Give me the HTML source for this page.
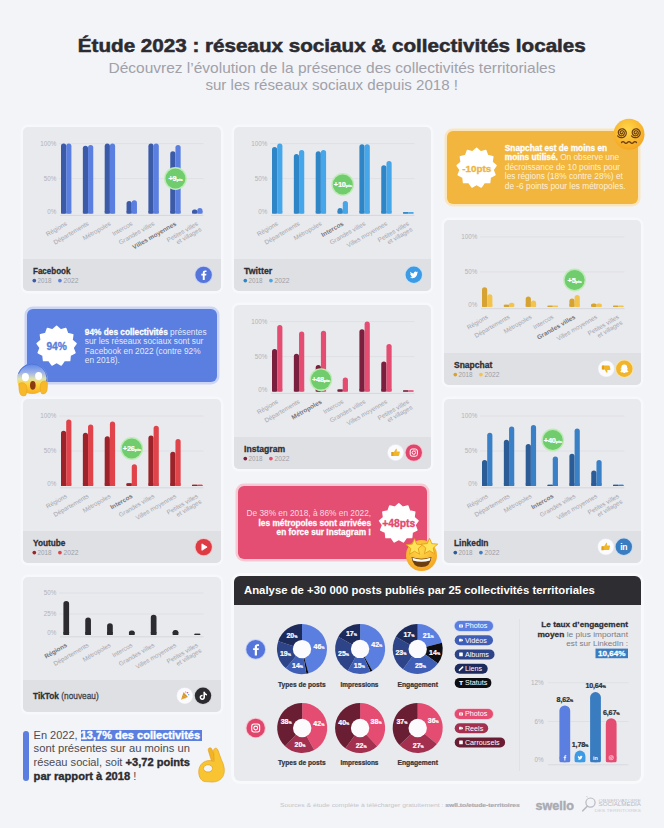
<!DOCTYPE html>
<html lang="fr"><head><meta charset="utf-8"><title>Étude 2023 : réseaux sociaux &amp; collectivités locales</title>
<style>html,body{margin:0;padding:0}
body{width:664px;height:828px;background:#f3f4f8;position:relative;overflow:hidden;font-family:"Liberation Sans", Arial, sans-serif}
.abs{position:absolute}
.card{position:absolute;background:#e9eaee;border-radius:5px;box-shadow:0 0 0 2.5px #f7f8fb;overflow:hidden}
.card .ft{position:absolute;left:0;right:0;bottom:0;background:#dfe0e4}
.call{position:absolute;border-radius:6px}
svg{position:absolute;left:0;top:0}
svg text{font-family:"Liberation Sans", Arial, sans-serif}</style></head>
<body>
<div class="card" style="left:23px;top:127px;width:198px;height:164px"><div class="ft" style="height:32px"></div></div>
<div class="card" style="left:234px;top:127px;width:197px;height:164px"><div class="ft" style="height:32px"></div></div>
<div class="call" style="left:447px;top:131px;width:191px;height:73px;background:#f2b63f;box-shadow:0 0 0 2.5px #fbe5bd"></div>
<div class="card" style="left:444px;top:220px;width:197px;height:165px"><div class="ft" style="height:32px"></div></div>
<div class="call" style="left:27px;top:309px;width:190px;height:73px;background:#5b7fe0;box-shadow:0 0 0 2.5px #cbd5f6"></div>
<div class="card" style="left:234px;top:305px;width:197px;height:164px"><div class="ft" style="height:32px"></div></div>
<div class="card" style="left:23px;top:399px;width:198px;height:164px"><div class="ft" style="height:32px"></div></div>
<div class="card" style="left:444px;top:399px;width:197px;height:164px"><div class="ft" style="height:32px"></div></div>
<div class="call" style="left:238px;top:486px;width:189px;height:73px;background:#e44e72;box-shadow:0 0 0 2.5px #f7c9d5"></div>
<div class="card" style="left:23px;top:577px;width:198px;height:135px"><div class="ft" style="height:32px"></div></div>
<div class="abs" style="left:23px;top:731px;width:5.5px;height:50px;border-radius:3px;background:#5b7fe0"></div>
<div class="abs" style="left:81px;top:730px;width:121px;height:10.5px;background:#5b7fe0"></div>
<div class="abs" style="left:234px;top:576px;width:407px;height:205px;border-radius:6px;background:#e9eaee;overflow:hidden;box-shadow:0 0 0 3px #f8f9fb"><div style="height:29px;background:#2e2e32"></div></div>
<svg width="664" height="828" viewBox="0 0 664 828">
<defs><radialGradient id="fg" cx="45%" cy="35%" r="65%"><stop offset="0" stop-color="#ffd84a"/><stop offset="1" stop-color="#f5a623"/></radialGradient><linearGradient id="sg" x1="0" y1="0" x2="0" y2="1"><stop offset="0" stop-color="#5a85e6"/><stop offset="0.3" stop-color="#9fb3ea"/><stop offset="0.5" stop-color="#dfe2b0"/><stop offset="0.68" stop-color="#ffd43c"/><stop offset="1" stop-color="#f6ae22"/></linearGradient></defs>
<text x="331.80" y="51.70" font-size="17.6" fill="#2b2b30" font-weight="bold" text-anchor="middle"  stroke="#2b2b30" stroke-width="0.5" textLength="508" lengthAdjust="spacingAndGlyphs">Étude 2023 : réseaux sociaux &amp; collectivités locales</text>
<text x="332.00" y="73.10" font-size="14.5" fill="#a0a1a9" font-weight="normal" text-anchor="middle"  textLength="447" lengthAdjust="spacingAndGlyphs">Découvrez l’évolution de la présence des collectivités territoriales</text>
<text x="331.70" y="89.50" font-size="14.5" fill="#a0a1a9" font-weight="normal" text-anchor="middle"  textLength="252.6" lengthAdjust="spacingAndGlyphs">sur les réseaux sociaux depuis 2018 !</text>
<line x1="59" y1="143.60" x2="203.5" y2="143.60" stroke="#dcdde2" stroke-width="0.8"/>
<text x="56.40" y="145.90" font-size="6.3" fill="#b2b3ba" font-weight="normal" text-anchor="end" >100%</text>
<line x1="59" y1="178.60" x2="203.5" y2="178.60" stroke="#dcdde2" stroke-width="0.8"/>
<text x="56.40" y="180.90" font-size="6.3" fill="#b2b3ba" font-weight="normal" text-anchor="end" >50%</text>
<text x="56.40" y="214.00" font-size="6.3" fill="#b2b3ba" font-weight="normal" text-anchor="end" >0%</text>
<line x1="60" y1="215.40" x2="203.5" y2="215.40" stroke="#d6d7dc" stroke-width="1"/>
<rect x="61.00" y="143.60" width="5.2" height="70.00" rx="2.60" fill="#3b5aa8"/>
<rect x="61.00" y="211.00" width="5.2" height="2.60" fill="#3b5aa8"/>
<rect x="66.20" y="143.60" width="5.2" height="70.00" rx="2.60" fill="#5a7fe0"/>
<rect x="66.20" y="211.00" width="5.2" height="2.60" fill="#5a7fe0"/>
<text transform="translate(67.50,224.90) rotate(-30)" font-size="6.3" fill="#a4a5ad" font-weight="normal" stroke="none" text-anchor="end">Régions</text>
<rect x="82.85" y="145.70" width="5.2" height="67.90" rx="2.60" fill="#3b5aa8"/>
<rect x="82.85" y="211.00" width="5.2" height="2.60" fill="#3b5aa8"/>
<rect x="88.05" y="145.00" width="5.2" height="68.60" rx="2.60" fill="#5a7fe0"/>
<rect x="88.05" y="211.00" width="5.2" height="2.60" fill="#5a7fe0"/>
<text transform="translate(89.35,224.90) rotate(-30)" font-size="6.3" fill="#a4a5ad" font-weight="normal" stroke="none" text-anchor="end">Départements</text>
<rect x="104.70" y="143.60" width="5.2" height="70.00" rx="2.60" fill="#3b5aa8"/>
<rect x="104.70" y="211.00" width="5.2" height="2.60" fill="#3b5aa8"/>
<rect x="109.90" y="143.60" width="5.2" height="70.00" rx="2.60" fill="#5a7fe0"/>
<rect x="109.90" y="211.00" width="5.2" height="2.60" fill="#5a7fe0"/>
<text transform="translate(111.20,224.90) rotate(-30)" font-size="6.3" fill="#a4a5ad" font-weight="normal" stroke="none" text-anchor="end">Métropoles</text>
<rect x="126.55" y="201.00" width="5.2" height="12.60" rx="2.60" fill="#3b5aa8"/>
<rect x="126.55" y="211.00" width="5.2" height="2.60" fill="#3b5aa8"/>
<rect x="131.75" y="200.30" width="5.2" height="13.30" rx="2.60" fill="#5a7fe0"/>
<rect x="131.75" y="211.00" width="5.2" height="2.60" fill="#5a7fe0"/>
<text transform="translate(133.05,224.90) rotate(-30)" font-size="6.3" fill="#a4a5ad" font-weight="normal" stroke="none" text-anchor="end">Intercos</text>
<rect x="148.40" y="143.60" width="5.2" height="70.00" rx="2.60" fill="#3b5aa8"/>
<rect x="148.40" y="211.00" width="5.2" height="2.60" fill="#3b5aa8"/>
<rect x="153.60" y="143.60" width="5.2" height="70.00" rx="2.60" fill="#5a7fe0"/>
<rect x="153.60" y="211.00" width="5.2" height="2.60" fill="#5a7fe0"/>
<text transform="translate(154.90,224.90) rotate(-30)" font-size="6.3" fill="#a4a5ad" font-weight="normal" stroke="none" text-anchor="end">Grandes villes</text>
<rect x="170.25" y="151.30" width="5.2" height="62.30" rx="2.60" fill="#3b5aa8"/>
<rect x="170.25" y="211.00" width="5.2" height="2.60" fill="#3b5aa8"/>
<rect x="175.45" y="145.00" width="5.2" height="68.60" rx="2.60" fill="#5a7fe0"/>
<rect x="175.45" y="211.00" width="5.2" height="2.60" fill="#5a7fe0"/>
<text transform="translate(176.75,224.90) rotate(-30)" font-size="6.3" fill="#74757d" font-weight="bold" stroke="none" text-anchor="end">Villes moyennes</text>
<rect x="192.10" y="209.40" width="5.2" height="4.20" rx="2.10" fill="#3b5aa8"/>
<rect x="192.10" y="211.00" width="5.2" height="2.60" fill="#3b5aa8"/>
<rect x="197.30" y="208.00" width="5.2" height="5.60" rx="2.60" fill="#5a7fe0"/>
<rect x="197.30" y="211.00" width="5.2" height="2.60" fill="#5a7fe0"/>
<text transform="translate(198.60,224.90) rotate(-30)" font-size="6.3" fill="#a4a5ad" font-weight="normal" stroke="none" text-anchor="end"><tspan x="0" y="0">Petites villes</tspan><tspan x="0" y="6.6">et villages</tspan></text>
<circle cx="175.45" cy="178.50" r="11.4" fill="#bdebb6"/>
<circle cx="175.45" cy="178.50" r="10" fill="#70cc6c"/>
<text x="175.45" y="181.10" font-size="7.4" fill="#ffffff" font-weight="bold" text-anchor="middle" letter-spacing="-0.2" stroke="#ffffff" stroke-width="0.24">+9<tspan font-size="4.4">pts</tspan></text>
<text x="33.00" y="273.70" font-size="8.6" fill="#2e2f35" font-weight="bold" text-anchor="start"  textLength="37.5" lengthAdjust="spacingAndGlyphs" stroke="#2e2f35" stroke-width="0.28">Facebook</text>
<circle cx="34.3" cy="280.60" r="1.85" fill="#3b5aa8"/>
<text x="37.60" y="283.10" font-size="7" fill="#9d9ea6" font-weight="normal" text-anchor="start"  textLength="14" lengthAdjust="spacingAndGlyphs">2018</text>
<circle cx="59.9" cy="280.60" r="1.85" fill="#5a7fe0"/>
<text x="63.50" y="283.10" font-size="7" fill="#9d9ea6" font-weight="normal" text-anchor="start"  textLength="15" lengthAdjust="spacingAndGlyphs">2022</text>
<circle cx="203.6" cy="274.9" r="9.2" fill="#c9d3f6"/>
<circle cx="203.6" cy="274.9" r="8.2" fill="#5575da"/>
<g transform="translate(203.6,274.9)"><path d="M1.1,5.2 V0.6 H2.6 L2.8,-1.1 H1.1 V-2.1 C1.1,-2.6 1.3,-2.9 1.9,-2.9 H2.9 V-4.4 C2.6,-4.45 2.1,-4.5 1.5,-4.5 C0.1,-4.5 -0.8,-3.7 -0.8,-2.2 V-1.1 H-2.3 V0.6 H-0.8 V5.2 Z" fill="#fff"/></g>
<line x1="270" y1="143.60" x2="414.5" y2="143.60" stroke="#dcdde2" stroke-width="0.8"/>
<text x="267.40" y="145.90" font-size="6.3" fill="#b2b3ba" font-weight="normal" text-anchor="end" >100%</text>
<line x1="270" y1="178.60" x2="414.5" y2="178.60" stroke="#dcdde2" stroke-width="0.8"/>
<text x="267.40" y="180.90" font-size="6.3" fill="#b2b3ba" font-weight="normal" text-anchor="end" >50%</text>
<text x="267.40" y="214.00" font-size="6.3" fill="#b2b3ba" font-weight="normal" text-anchor="end" >0%</text>
<line x1="271" y1="215.40" x2="414.5" y2="215.40" stroke="#d6d7dc" stroke-width="1"/>
<rect x="272.00" y="147.10" width="5.2" height="66.50" rx="2.60" fill="#2e86c7"/>
<rect x="272.00" y="211.00" width="5.2" height="2.60" fill="#2e86c7"/>
<rect x="277.20" y="143.60" width="5.2" height="70.00" rx="2.60" fill="#45a6ea"/>
<rect x="277.20" y="211.00" width="5.2" height="2.60" fill="#45a6ea"/>
<text transform="translate(278.50,224.90) rotate(-30)" font-size="6.3" fill="#a4a5ad" font-weight="normal" stroke="none" text-anchor="end">Régions</text>
<rect x="293.85" y="154.10" width="5.2" height="59.50" rx="2.60" fill="#2e86c7"/>
<rect x="293.85" y="211.00" width="5.2" height="2.60" fill="#2e86c7"/>
<rect x="299.05" y="149.90" width="5.2" height="63.70" rx="2.60" fill="#45a6ea"/>
<rect x="299.05" y="211.00" width="5.2" height="2.60" fill="#45a6ea"/>
<text transform="translate(300.35,224.90) rotate(-30)" font-size="6.3" fill="#a4a5ad" font-weight="normal" stroke="none" text-anchor="end">Départements</text>
<rect x="315.70" y="151.30" width="5.2" height="62.30" rx="2.60" fill="#2e86c7"/>
<rect x="315.70" y="211.00" width="5.2" height="2.60" fill="#2e86c7"/>
<rect x="320.90" y="149.90" width="5.2" height="63.70" rx="2.60" fill="#45a6ea"/>
<rect x="320.90" y="211.00" width="5.2" height="2.60" fill="#45a6ea"/>
<text transform="translate(322.20,224.90) rotate(-30)" font-size="6.3" fill="#a4a5ad" font-weight="normal" stroke="none" text-anchor="end">Métropoles</text>
<rect x="337.55" y="208.00" width="5.2" height="5.60" rx="2.60" fill="#2e86c7"/>
<rect x="337.55" y="211.00" width="5.2" height="2.60" fill="#2e86c7"/>
<rect x="342.75" y="201.00" width="5.2" height="12.60" rx="2.60" fill="#45a6ea"/>
<rect x="342.75" y="211.00" width="5.2" height="2.60" fill="#45a6ea"/>
<text transform="translate(344.05,224.90) rotate(-30)" font-size="6.3" fill="#74757d" font-weight="bold" stroke="none" text-anchor="end">Intercos</text>
<rect x="359.40" y="144.30" width="5.2" height="69.30" rx="2.60" fill="#2e86c7"/>
<rect x="359.40" y="211.00" width="5.2" height="2.60" fill="#2e86c7"/>
<rect x="364.60" y="144.30" width="5.2" height="69.30" rx="2.60" fill="#45a6ea"/>
<rect x="364.60" y="211.00" width="5.2" height="2.60" fill="#45a6ea"/>
<text transform="translate(365.90,224.90) rotate(-30)" font-size="6.3" fill="#a4a5ad" font-weight="normal" stroke="none" text-anchor="end">Grandes villes</text>
<rect x="381.25" y="165.30" width="5.2" height="48.30" rx="2.60" fill="#2e86c7"/>
<rect x="381.25" y="211.00" width="5.2" height="2.60" fill="#2e86c7"/>
<rect x="386.45" y="161.10" width="5.2" height="52.50" rx="2.60" fill="#45a6ea"/>
<rect x="386.45" y="211.00" width="5.2" height="2.60" fill="#45a6ea"/>
<text transform="translate(387.75,224.90) rotate(-30)" font-size="6.3" fill="#a4a5ad" font-weight="normal" stroke="none" text-anchor="end">Villes moyennes</text>
<rect x="403.10" y="212.20" width="5.2" height="1.40" rx="0.70" fill="#2e86c7"/>
<rect x="403.10" y="212.20" width="5.2" height="1.40" fill="#2e86c7"/>
<rect x="408.30" y="212.20" width="5.2" height="1.40" rx="0.70" fill="#45a6ea"/>
<rect x="408.30" y="212.20" width="5.2" height="1.40" fill="#45a6ea"/>
<text transform="translate(409.60,224.90) rotate(-30)" font-size="6.3" fill="#a4a5ad" font-weight="normal" stroke="none" text-anchor="end"><tspan x="0" y="0">Petites villes</tspan><tspan x="0" y="6.6">et villages</tspan></text>
<circle cx="342.75" cy="184.50" r="11.4" fill="#bdebb6"/>
<circle cx="342.75" cy="184.50" r="10" fill="#70cc6c"/>
<text x="342.75" y="187.10" font-size="7.4" fill="#ffffff" font-weight="bold" text-anchor="middle" letter-spacing="-0.2" stroke="#ffffff" stroke-width="0.24">+10<tspan font-size="4.4">pts</tspan></text>
<text x="244.00" y="273.70" font-size="8.6" fill="#2e2f35" font-weight="bold" text-anchor="start"  textLength="28.2" lengthAdjust="spacingAndGlyphs" stroke="#2e2f35" stroke-width="0.28">Twitter</text>
<circle cx="245.3" cy="280.60" r="1.85" fill="#2e86c7"/>
<text x="248.60" y="283.10" font-size="7" fill="#9d9ea6" font-weight="normal" text-anchor="start"  textLength="14" lengthAdjust="spacingAndGlyphs">2018</text>
<circle cx="270.9" cy="280.60" r="1.85" fill="#45a6ea"/>
<text x="274.50" y="283.10" font-size="7" fill="#9d9ea6" font-weight="normal" text-anchor="start"  textLength="15" lengthAdjust="spacingAndGlyphs">2022</text>
<circle cx="413.8" cy="274.8" r="9.2" fill="#c6e1f7"/>
<circle cx="413.8" cy="274.8" r="8.2" fill="#3d9be6"/>
<g transform="translate(413.8,274.8)"><path d="M4.3,-2.6 C4,-2.45 3.7,-2.38 3.35,-2.33 C3.7,-2.55 3.95,-2.87 4.08,-3.27 C3.75,-3.07 3.4,-2.93 3.02,-2.86 C2.7,-3.2 2.26,-3.4 1.77,-3.4 C0.83,-3.4 0.07,-2.64 0.07,-1.7 C0.07,-1.57 0.08,-1.43 0.11,-1.31 C-1.3,-1.38 -2.55,-2.06 -3.39,-3.08 C-3.53,-2.83 -3.62,-2.54 -3.62,-2.23 C-3.62,-1.64 -3.32,-1.12 -2.86,-0.81 C-3.14,-0.82 -3.4,-0.9 -3.63,-1.02 V-1 C-3.63,-0.18 -3.05,0.51 -2.27,0.67 C-2.42,0.71 -2.57,0.73 -2.72,0.73 C-2.83,0.73 -2.94,0.72 -3.04,0.7 C-2.82,1.37 -2.2,1.86 -1.46,1.88 C-2.04,2.34 -2.78,2.61 -3.57,2.61 C-3.71,2.61 -3.84,2.6 -3.97,2.58 C-3.22,3.07 -2.32,3.35 -1.36,3.35 C1.77,3.35 3.49,0.75 3.49,-1.5 L3.48,-1.72 C3.82,-1.96 4.1,-2.26 4.33,-2.6 Z" fill="#fff"/></g>
<line x1="480" y1="236.90" x2="624.5" y2="236.90" stroke="#dcdde2" stroke-width="0.8"/>
<text x="477.40" y="239.20" font-size="6.3" fill="#b2b3ba" font-weight="normal" text-anchor="end" >100%</text>
<line x1="480" y1="271.90" x2="624.5" y2="271.90" stroke="#dcdde2" stroke-width="0.8"/>
<text x="477.40" y="274.20" font-size="6.3" fill="#b2b3ba" font-weight="normal" text-anchor="end" >50%</text>
<text x="477.40" y="307.30" font-size="6.3" fill="#b2b3ba" font-weight="normal" text-anchor="end" >0%</text>
<line x1="481" y1="308.70" x2="624.5" y2="308.70" stroke="#d6d7dc" stroke-width="1"/>
<rect x="482.00" y="287.30" width="5.2" height="19.60" rx="2.60" fill="#d6a333"/>
<rect x="482.00" y="304.30" width="5.2" height="2.60" fill="#d6a333"/>
<rect x="487.20" y="294.30" width="5.2" height="12.60" rx="2.60" fill="#f3c44d"/>
<rect x="487.20" y="304.30" width="5.2" height="2.60" fill="#f3c44d"/>
<text transform="translate(488.50,318.20) rotate(-30)" font-size="6.3" fill="#a4a5ad" font-weight="normal" stroke="none" text-anchor="end">Régions</text>
<rect x="503.85" y="304.80" width="5.2" height="2.10" rx="1.05" fill="#d6a333"/>
<rect x="503.85" y="304.80" width="5.2" height="2.10" fill="#d6a333"/>
<rect x="509.05" y="302.70" width="5.2" height="4.20" rx="2.10" fill="#f3c44d"/>
<rect x="509.05" y="304.30" width="5.2" height="2.60" fill="#f3c44d"/>
<text transform="translate(510.35,318.20) rotate(-30)" font-size="6.3" fill="#a4a5ad" font-weight="normal" stroke="none" text-anchor="end">Départements</text>
<rect x="525.70" y="296.40" width="5.2" height="10.50" rx="2.60" fill="#d6a333"/>
<rect x="525.70" y="304.30" width="5.2" height="2.60" fill="#d6a333"/>
<rect x="530.90" y="300.60" width="5.2" height="6.30" rx="2.60" fill="#f3c44d"/>
<rect x="530.90" y="304.30" width="5.2" height="2.60" fill="#f3c44d"/>
<text transform="translate(532.20,318.20) rotate(-30)" font-size="6.3" fill="#a4a5ad" font-weight="normal" stroke="none" text-anchor="end">Métropoles</text>
<rect x="547.55" y="305.70" width="5.2" height="1.20" rx="0.60" fill="#d6a333"/>
<rect x="547.55" y="305.70" width="5.2" height="1.20" fill="#d6a333"/>
<rect x="552.75" y="305.70" width="5.2" height="1.20" rx="0.60" fill="#f3c44d"/>
<rect x="552.75" y="305.70" width="5.2" height="1.20" fill="#f3c44d"/>
<text transform="translate(554.05,318.20) rotate(-30)" font-size="6.3" fill="#a4a5ad" font-weight="normal" stroke="none" text-anchor="end">Intercos</text>
<rect x="569.40" y="298.50" width="5.2" height="8.40" rx="2.60" fill="#d6a333"/>
<rect x="569.40" y="304.30" width="5.2" height="2.60" fill="#d6a333"/>
<rect x="574.60" y="295.00" width="5.2" height="11.90" rx="2.60" fill="#f3c44d"/>
<rect x="574.60" y="304.30" width="5.2" height="2.60" fill="#f3c44d"/>
<text transform="translate(575.90,318.20) rotate(-30)" font-size="6.3" fill="#74757d" font-weight="bold" stroke="none" text-anchor="end">Grandes villes</text>
<rect x="591.25" y="303.40" width="5.2" height="3.50" rx="1.75" fill="#d6a333"/>
<rect x="591.25" y="304.30" width="5.2" height="2.60" fill="#d6a333"/>
<rect x="596.45" y="303.40" width="5.2" height="3.50" rx="1.75" fill="#f3c44d"/>
<rect x="596.45" y="304.30" width="5.2" height="2.60" fill="#f3c44d"/>
<text transform="translate(597.75,318.20) rotate(-30)" font-size="6.3" fill="#a4a5ad" font-weight="normal" stroke="none" text-anchor="end">Villes moyennes</text>
<rect x="613.10" y="305.70" width="5.2" height="1.20" rx="0.60" fill="#d6a333"/>
<rect x="613.10" y="305.70" width="5.2" height="1.20" fill="#d6a333"/>
<rect x="618.30" y="305.70" width="5.2" height="1.20" rx="0.60" fill="#f3c44d"/>
<rect x="618.30" y="305.70" width="5.2" height="1.20" fill="#f3c44d"/>
<text transform="translate(619.60,318.20) rotate(-30)" font-size="6.3" fill="#a4a5ad" font-weight="normal" stroke="none" text-anchor="end"><tspan x="0" y="0">Petites villes</tspan><tspan x="0" y="6.6">et villages</tspan></text>
<circle cx="574.60" cy="280.00" r="11.4" fill="#bdebb6"/>
<circle cx="574.60" cy="280.00" r="10" fill="#70cc6c"/>
<text x="574.60" y="282.60" font-size="7.4" fill="#ffffff" font-weight="bold" text-anchor="middle" letter-spacing="-0.2" stroke="#ffffff" stroke-width="0.24">+5<tspan font-size="4.4">pts</tspan></text>
<text x="454.00" y="367.70" font-size="8.6" fill="#2e2f35" font-weight="bold" text-anchor="start"  textLength="38.3" lengthAdjust="spacingAndGlyphs" stroke="#2e2f35" stroke-width="0.28">Snapchat</text>
<circle cx="455.3" cy="374.60" r="1.85" fill="#d6a333"/>
<text x="458.60" y="377.10" font-size="7" fill="#9d9ea6" font-weight="normal" text-anchor="start"  textLength="14" lengthAdjust="spacingAndGlyphs">2018</text>
<circle cx="480.9" cy="374.60" r="1.85" fill="#f3c44d"/>
<text x="484.50" y="377.10" font-size="7" fill="#9d9ea6" font-weight="normal" text-anchor="start"  textLength="15" lengthAdjust="spacingAndGlyphs">2022</text>
<circle cx="606.2" cy="368.8" r="8.3" fill="#eceef6"/>
<circle cx="606.2" cy="368.8" r="7.7" fill="#fbfbfd"/>
<g transform="translate(606.2,368.8) scale(1,-1)"><path d="M-3.6,-0.6 H-1.6 L0.2,-3.6 C0.5,-4.2 1.4,-4 1.3,-3.2 L1,-1.2 H3.4 C4,-1.2 4.3,-0.7 4.2,-0.2 L3.5,2.7 C3.4,3.1 3.1,3.3 2.7,3.3 H-3.6 Z" fill="#f1b52a"/><rect x="-4.4" y="-0.6" width="2.2" height="4" rx="0.5" fill="#e0a01e"/></g>
<circle cx="624.3" cy="368.8" r="9.2" fill="#fbe3a8"/>
<circle cx="624.3" cy="368.8" r="8.2" fill="#f0b52c"/>
<g transform="translate(624.3,368.8)"><path d="M0,-4.2 C1.9,-4.2 2.9,-2.9 2.9,-1.3 V-0.3 C3.3,-0.5 3.8,-0.4 3.8,-0.1 C3.8,0.3 3.1,0.5 2.8,0.6 C3,1.5 3.7,2.3 4.4,2.5 C4.3,2.9 3.6,3 3.1,3.1 C2.9,3.6 2.8,3.7 2.3,3.6 C1.7,3.5 1.3,3.7 0.9,4 C0.5,4.3 -0.5,4.3 -0.9,4 C-1.3,3.7 -1.7,3.5 -2.3,3.6 C-2.8,3.7 -2.9,3.6 -3.1,3.1 C-3.6,3 -4.3,2.9 -4.4,2.5 C-3.7,2.3 -3,1.5 -2.8,0.6 C-3.1,0.5 -3.8,0.3 -3.8,-0.1 C-3.8,-0.4 -3.3,-0.5 -2.9,-0.3 V-1.3 C-2.9,-2.9 -1.9,-4.2 0,-4.2 Z" fill="#fff"/></g>
<line x1="270" y1="321.60" x2="414.5" y2="321.60" stroke="#dcdde2" stroke-width="0.8"/>
<text x="267.40" y="323.90" font-size="6.3" fill="#b2b3ba" font-weight="normal" text-anchor="end" >100%</text>
<line x1="270" y1="356.60" x2="414.5" y2="356.60" stroke="#dcdde2" stroke-width="0.8"/>
<text x="267.40" y="358.90" font-size="6.3" fill="#b2b3ba" font-weight="normal" text-anchor="end" >50%</text>
<text x="267.40" y="392.00" font-size="6.3" fill="#b2b3ba" font-weight="normal" text-anchor="end" >0%</text>
<line x1="271" y1="393.40" x2="414.5" y2="393.40" stroke="#d6d7dc" stroke-width="1"/>
<rect x="272.00" y="348.90" width="5.2" height="42.70" rx="2.60" fill="#7a1f3e"/>
<rect x="272.00" y="389.00" width="5.2" height="2.60" fill="#7a1f3e"/>
<rect x="277.20" y="325.10" width="5.2" height="66.50" rx="2.60" fill="#e44c71"/>
<rect x="277.20" y="389.00" width="5.2" height="2.60" fill="#e44c71"/>
<text transform="translate(278.50,402.90) rotate(-30)" font-size="6.3" fill="#a4a5ad" font-weight="normal" stroke="none" text-anchor="end">Régions</text>
<rect x="293.85" y="353.80" width="5.2" height="37.80" rx="2.60" fill="#7a1f3e"/>
<rect x="293.85" y="389.00" width="5.2" height="2.60" fill="#7a1f3e"/>
<rect x="299.05" y="331.40" width="5.2" height="60.20" rx="2.60" fill="#e44c71"/>
<rect x="299.05" y="389.00" width="5.2" height="2.60" fill="#e44c71"/>
<text transform="translate(300.35,402.90) rotate(-30)" font-size="6.3" fill="#a4a5ad" font-weight="normal" stroke="none" text-anchor="end">Départements</text>
<rect x="315.70" y="365.00" width="5.2" height="26.60" rx="2.60" fill="#7a1f3e"/>
<rect x="315.70" y="389.00" width="5.2" height="2.60" fill="#7a1f3e"/>
<rect x="320.90" y="330.70" width="5.2" height="60.90" rx="2.60" fill="#e44c71"/>
<rect x="320.90" y="389.00" width="5.2" height="2.60" fill="#e44c71"/>
<text transform="translate(322.20,402.90) rotate(-30)" font-size="6.3" fill="#74757d" font-weight="bold" stroke="none" text-anchor="end">Métropoles</text>
<rect x="337.55" y="389.50" width="5.2" height="2.10" rx="1.05" fill="#7a1f3e"/>
<rect x="337.55" y="389.50" width="5.2" height="2.10" fill="#7a1f3e"/>
<rect x="342.75" y="377.60" width="5.2" height="14.00" rx="2.60" fill="#e44c71"/>
<rect x="342.75" y="389.00" width="5.2" height="2.60" fill="#e44c71"/>
<text transform="translate(344.05,402.90) rotate(-30)" font-size="6.3" fill="#a4a5ad" font-weight="normal" stroke="none" text-anchor="end">Intercos</text>
<rect x="359.40" y="329.30" width="5.2" height="62.30" rx="2.60" fill="#7a1f3e"/>
<rect x="359.40" y="389.00" width="5.2" height="2.60" fill="#7a1f3e"/>
<rect x="364.60" y="321.60" width="5.2" height="70.00" rx="2.60" fill="#e44c71"/>
<rect x="364.60" y="389.00" width="5.2" height="2.60" fill="#e44c71"/>
<text transform="translate(365.90,402.90) rotate(-30)" font-size="6.3" fill="#a4a5ad" font-weight="normal" stroke="none" text-anchor="end">Grandes villes</text>
<rect x="381.25" y="361.50" width="5.2" height="30.10" rx="2.60" fill="#7a1f3e"/>
<rect x="381.25" y="389.00" width="5.2" height="2.60" fill="#7a1f3e"/>
<rect x="386.45" y="344.00" width="5.2" height="47.60" rx="2.60" fill="#e44c71"/>
<rect x="386.45" y="389.00" width="5.2" height="2.60" fill="#e44c71"/>
<text transform="translate(387.75,402.90) rotate(-30)" font-size="6.3" fill="#a4a5ad" font-weight="normal" stroke="none" text-anchor="end">Villes moyennes</text>
<rect x="403.10" y="390.40" width="5.2" height="1.20" rx="0.60" fill="#7a1f3e"/>
<rect x="403.10" y="390.40" width="5.2" height="1.20" fill="#7a1f3e"/>
<rect x="408.30" y="390.40" width="5.2" height="1.20" rx="0.60" fill="#e44c71"/>
<rect x="408.30" y="390.40" width="5.2" height="1.20" fill="#e44c71"/>
<text transform="translate(409.60,402.90) rotate(-30)" font-size="6.3" fill="#a4a5ad" font-weight="normal" stroke="none" text-anchor="end"><tspan x="0" y="0">Petites villes</tspan><tspan x="0" y="6.6">et villages</tspan></text>
<circle cx="320.90" cy="379.60" r="11.4" fill="#bdebb6"/>
<circle cx="320.90" cy="379.60" r="10" fill="#70cc6c"/>
<text x="320.90" y="382.20" font-size="7.4" fill="#ffffff" font-weight="bold" text-anchor="middle" letter-spacing="-0.2" stroke="#ffffff" stroke-width="0.24">+48<tspan font-size="4.4">pts</tspan></text>
<text x="244.00" y="451.70" font-size="8.6" fill="#2e2f35" font-weight="bold" text-anchor="start"  textLength="41.1" lengthAdjust="spacingAndGlyphs" stroke="#2e2f35" stroke-width="0.28">Instagram</text>
<circle cx="245.3" cy="458.60" r="1.85" fill="#7a1f3e"/>
<text x="248.60" y="461.10" font-size="7" fill="#9d9ea6" font-weight="normal" text-anchor="start"  textLength="14" lengthAdjust="spacingAndGlyphs">2018</text>
<circle cx="270.9" cy="458.60" r="1.85" fill="#e44c71"/>
<text x="274.50" y="461.10" font-size="7" fill="#9d9ea6" font-weight="normal" text-anchor="start"  textLength="15" lengthAdjust="spacingAndGlyphs">2022</text>
<circle cx="395.6" cy="452.6" r="8.3" fill="#eceef6"/>
<circle cx="395.6" cy="452.6" r="7.7" fill="#fbfbfd"/>
<g transform="translate(395.6,452.6)"><path d="M-3.6,-0.6 H-1.6 L0.2,-3.6 C0.5,-4.2 1.4,-4 1.3,-3.2 L1,-1.2 H3.4 C4,-1.2 4.3,-0.7 4.2,-0.2 L3.5,2.7 C3.4,3.1 3.1,3.3 2.7,3.3 H-3.6 Z" fill="#f1b52a"/><rect x="-4.4" y="-0.6" width="2.2" height="4" rx="0.5" fill="#e0a01e"/></g>
<circle cx="413.8" cy="452.6" r="9.2" fill="#f6c5d2"/>
<circle cx="413.8" cy="452.6" r="8.2" fill="#e0466c"/>
<g transform="translate(413.8,452.6)"><rect x="-3.6" y="-3.6" width="7.2" height="7.2" rx="2" fill="none" stroke="#fff" stroke-width="1"/><circle cx="0" cy="0" r="1.7" fill="none" stroke="#fff" stroke-width="1"/><circle cx="2.1" cy="-2.1" r="0.45" fill="#fff"/></g>
<line x1="59" y1="416.00" x2="203.5" y2="416.00" stroke="#dcdde2" stroke-width="0.8"/>
<text x="56.40" y="418.30" font-size="6.3" fill="#b2b3ba" font-weight="normal" text-anchor="end" >100%</text>
<line x1="59" y1="451.00" x2="203.5" y2="451.00" stroke="#dcdde2" stroke-width="0.8"/>
<text x="56.40" y="453.30" font-size="6.3" fill="#b2b3ba" font-weight="normal" text-anchor="end" >50%</text>
<text x="56.40" y="486.40" font-size="6.3" fill="#b2b3ba" font-weight="normal" text-anchor="end" >0%</text>
<line x1="60" y1="487.80" x2="203.5" y2="487.80" stroke="#d6d7dc" stroke-width="1"/>
<rect x="61.00" y="430.70" width="5.2" height="55.30" rx="2.60" fill="#9c2329"/>
<rect x="61.00" y="483.40" width="5.2" height="2.60" fill="#9c2329"/>
<rect x="66.20" y="419.50" width="5.2" height="66.50" rx="2.60" fill="#e0434a"/>
<rect x="66.20" y="483.40" width="5.2" height="2.60" fill="#e0434a"/>
<text transform="translate(67.50,497.30) rotate(-30)" font-size="6.3" fill="#a4a5ad" font-weight="normal" stroke="none" text-anchor="end">Régions</text>
<rect x="82.85" y="432.80" width="5.2" height="53.20" rx="2.60" fill="#9c2329"/>
<rect x="82.85" y="483.40" width="5.2" height="2.60" fill="#9c2329"/>
<rect x="88.05" y="424.40" width="5.2" height="61.60" rx="2.60" fill="#e0434a"/>
<rect x="88.05" y="483.40" width="5.2" height="2.60" fill="#e0434a"/>
<text transform="translate(89.35,497.30) rotate(-30)" font-size="6.3" fill="#a4a5ad" font-weight="normal" stroke="none" text-anchor="end">Départements</text>
<rect x="104.70" y="436.30" width="5.2" height="49.70" rx="2.60" fill="#9c2329"/>
<rect x="104.70" y="483.40" width="5.2" height="2.60" fill="#9c2329"/>
<rect x="109.90" y="421.60" width="5.2" height="64.40" rx="2.60" fill="#e0434a"/>
<rect x="109.90" y="483.40" width="5.2" height="2.60" fill="#e0434a"/>
<text transform="translate(111.20,497.30) rotate(-30)" font-size="6.3" fill="#a4a5ad" font-weight="normal" stroke="none" text-anchor="end">Métropoles</text>
<rect x="126.55" y="483.20" width="5.2" height="2.80" rx="1.40" fill="#9c2329"/>
<rect x="126.55" y="483.40" width="5.2" height="2.60" fill="#9c2329"/>
<rect x="131.75" y="464.30" width="5.2" height="21.70" rx="2.60" fill="#e0434a"/>
<rect x="131.75" y="483.40" width="5.2" height="2.60" fill="#e0434a"/>
<text transform="translate(133.05,497.30) rotate(-30)" font-size="6.3" fill="#74757d" font-weight="bold" stroke="none" text-anchor="end">Intercos</text>
<rect x="148.40" y="435.60" width="5.2" height="50.40" rx="2.60" fill="#9c2329"/>
<rect x="148.40" y="483.40" width="5.2" height="2.60" fill="#9c2329"/>
<rect x="153.60" y="425.80" width="5.2" height="60.20" rx="2.60" fill="#e0434a"/>
<rect x="153.60" y="483.40" width="5.2" height="2.60" fill="#e0434a"/>
<text transform="translate(154.90,497.30) rotate(-30)" font-size="6.3" fill="#a4a5ad" font-weight="normal" stroke="none" text-anchor="end">Grandes villes</text>
<rect x="170.25" y="451.70" width="5.2" height="34.30" rx="2.60" fill="#9c2329"/>
<rect x="170.25" y="483.40" width="5.2" height="2.60" fill="#9c2329"/>
<rect x="175.45" y="439.10" width="5.2" height="46.90" rx="2.60" fill="#e0434a"/>
<rect x="175.45" y="483.40" width="5.2" height="2.60" fill="#e0434a"/>
<text transform="translate(176.75,497.30) rotate(-30)" font-size="6.3" fill="#a4a5ad" font-weight="normal" stroke="none" text-anchor="end">Villes moyennes</text>
<rect x="192.10" y="484.80" width="5.2" height="1.20" rx="0.60" fill="#9c2329"/>
<rect x="192.10" y="484.80" width="5.2" height="1.20" fill="#9c2329"/>
<rect x="197.30" y="484.80" width="5.2" height="1.20" rx="0.60" fill="#e0434a"/>
<rect x="197.30" y="484.80" width="5.2" height="1.20" fill="#e0434a"/>
<text transform="translate(198.60,497.30) rotate(-30)" font-size="6.3" fill="#a4a5ad" font-weight="normal" stroke="none" text-anchor="end"><tspan x="0" y="0">Petites villes</tspan><tspan x="0" y="6.6">et villages</tspan></text>
<circle cx="131.75" cy="448.50" r="11.4" fill="#bdebb6"/>
<circle cx="131.75" cy="448.50" r="10" fill="#70cc6c"/>
<text x="131.75" y="451.10" font-size="7.4" fill="#ffffff" font-weight="bold" text-anchor="middle" letter-spacing="-0.2" stroke="#ffffff" stroke-width="0.24">+26<tspan font-size="4.4">pts</tspan></text>
<text x="33.00" y="545.70" font-size="8.6" fill="#2e2f35" font-weight="bold" text-anchor="start"  textLength="32.4" lengthAdjust="spacingAndGlyphs" stroke="#2e2f35" stroke-width="0.28">Youtube</text>
<circle cx="34.3" cy="552.60" r="1.85" fill="#9c2329"/>
<text x="37.60" y="555.10" font-size="7" fill="#9d9ea6" font-weight="normal" text-anchor="start"  textLength="14" lengthAdjust="spacingAndGlyphs">2018</text>
<circle cx="59.9" cy="552.60" r="1.85" fill="#e0434a"/>
<text x="63.50" y="555.10" font-size="7" fill="#9d9ea6" font-weight="normal" text-anchor="start"  textLength="15" lengthAdjust="spacingAndGlyphs">2022</text>
<circle cx="203.7" cy="547.1" r="9.2" fill="#f5c4c6"/>
<circle cx="203.7" cy="547.1" r="8.2" fill="#de3c45"/>
<g transform="translate(203.7,547.1)"><path d="M-1.8,-3.2 L3.4,0 L-1.8,3.2 Z" fill="#fff" stroke="#fff" stroke-width="0.8" stroke-linejoin="round"/></g>
<line x1="480" y1="416.00" x2="624.5" y2="416.00" stroke="#dcdde2" stroke-width="0.8"/>
<text x="477.40" y="418.30" font-size="6.3" fill="#b2b3ba" font-weight="normal" text-anchor="end" >100%</text>
<line x1="480" y1="451.00" x2="624.5" y2="451.00" stroke="#dcdde2" stroke-width="0.8"/>
<text x="477.40" y="453.30" font-size="6.3" fill="#b2b3ba" font-weight="normal" text-anchor="end" >50%</text>
<text x="477.40" y="486.40" font-size="6.3" fill="#b2b3ba" font-weight="normal" text-anchor="end" >0%</text>
<line x1="481" y1="487.80" x2="624.5" y2="487.80" stroke="#d6d7dc" stroke-width="1"/>
<rect x="482.00" y="460.10" width="5.2" height="25.90" rx="2.60" fill="#2b5c96"/>
<rect x="482.00" y="483.40" width="5.2" height="2.60" fill="#2b5c96"/>
<rect x="487.20" y="432.80" width="5.2" height="53.20" rx="2.60" fill="#3a80c6"/>
<rect x="487.20" y="483.40" width="5.2" height="2.60" fill="#3a80c6"/>
<text transform="translate(488.50,497.30) rotate(-30)" font-size="6.3" fill="#a4a5ad" font-weight="normal" stroke="none" text-anchor="end">Régions</text>
<rect x="503.85" y="439.80" width="5.2" height="46.20" rx="2.60" fill="#2b5c96"/>
<rect x="503.85" y="483.40" width="5.2" height="2.60" fill="#2b5c96"/>
<rect x="509.05" y="426.50" width="5.2" height="59.50" rx="2.60" fill="#3a80c6"/>
<rect x="509.05" y="483.40" width="5.2" height="2.60" fill="#3a80c6"/>
<text transform="translate(510.35,497.30) rotate(-30)" font-size="6.3" fill="#a4a5ad" font-weight="normal" stroke="none" text-anchor="end">Départements</text>
<rect x="525.70" y="444.00" width="5.2" height="42.00" rx="2.60" fill="#2b5c96"/>
<rect x="525.70" y="483.40" width="5.2" height="2.60" fill="#2b5c96"/>
<rect x="530.90" y="425.10" width="5.2" height="60.90" rx="2.60" fill="#3a80c6"/>
<rect x="530.90" y="483.40" width="5.2" height="2.60" fill="#3a80c6"/>
<text transform="translate(532.20,497.30) rotate(-30)" font-size="6.3" fill="#a4a5ad" font-weight="normal" stroke="none" text-anchor="end">Métropoles</text>
<rect x="547.55" y="484.80" width="5.2" height="1.20" rx="0.60" fill="#2b5c96"/>
<rect x="547.55" y="484.80" width="5.2" height="1.20" fill="#2b5c96"/>
<rect x="552.75" y="456.60" width="5.2" height="29.40" rx="2.60" fill="#3a80c6"/>
<rect x="552.75" y="483.40" width="5.2" height="2.60" fill="#3a80c6"/>
<text transform="translate(554.05,497.30) rotate(-30)" font-size="6.3" fill="#74757d" font-weight="bold" stroke="none" text-anchor="end">Intercos</text>
<rect x="569.40" y="453.80" width="5.2" height="32.20" rx="2.60" fill="#2b5c96"/>
<rect x="569.40" y="483.40" width="5.2" height="2.60" fill="#2b5c96"/>
<rect x="574.60" y="428.60" width="5.2" height="57.40" rx="2.60" fill="#3a80c6"/>
<rect x="574.60" y="483.40" width="5.2" height="2.60" fill="#3a80c6"/>
<text transform="translate(575.90,497.30) rotate(-30)" font-size="6.3" fill="#a4a5ad" font-weight="normal" stroke="none" text-anchor="end">Grandes villes</text>
<rect x="591.25" y="470.60" width="5.2" height="15.40" rx="2.60" fill="#2b5c96"/>
<rect x="591.25" y="483.40" width="5.2" height="2.60" fill="#2b5c96"/>
<rect x="596.45" y="460.10" width="5.2" height="25.90" rx="2.60" fill="#3a80c6"/>
<rect x="596.45" y="483.40" width="5.2" height="2.60" fill="#3a80c6"/>
<text transform="translate(597.75,497.30) rotate(-30)" font-size="6.3" fill="#a4a5ad" font-weight="normal" stroke="none" text-anchor="end">Villes moyennes</text>
<rect x="613.10" y="484.80" width="5.2" height="1.20" rx="0.60" fill="#2b5c96"/>
<rect x="613.10" y="484.80" width="5.2" height="1.20" fill="#2b5c96"/>
<rect x="618.30" y="484.80" width="5.2" height="1.20" rx="0.60" fill="#3a80c6"/>
<rect x="618.30" y="484.80" width="5.2" height="1.20" fill="#3a80c6"/>
<text transform="translate(619.60,497.30) rotate(-30)" font-size="6.3" fill="#a4a5ad" font-weight="normal" stroke="none" text-anchor="end"><tspan x="0" y="0">Petites villes</tspan><tspan x="0" y="6.6">et villages</tspan></text>
<circle cx="552.75" cy="440.00" r="11.4" fill="#bdebb6"/>
<circle cx="552.75" cy="440.00" r="10" fill="#70cc6c"/>
<text x="552.75" y="442.60" font-size="7.4" fill="#ffffff" font-weight="bold" text-anchor="middle" letter-spacing="-0.2" stroke="#ffffff" stroke-width="0.24">+40<tspan font-size="4.4">pts</tspan></text>
<text x="454.00" y="545.70" font-size="8.6" fill="#2e2f35" font-weight="bold" text-anchor="start"  textLength="34.5" lengthAdjust="spacingAndGlyphs" stroke="#2e2f35" stroke-width="0.28">LinkedIn</text>
<circle cx="455.3" cy="552.60" r="1.85" fill="#2b5c96"/>
<text x="458.60" y="555.10" font-size="7" fill="#9d9ea6" font-weight="normal" text-anchor="start"  textLength="14" lengthAdjust="spacingAndGlyphs">2018</text>
<circle cx="480.9" cy="552.60" r="1.85" fill="#3a80c6"/>
<text x="484.50" y="555.10" font-size="7" fill="#9d9ea6" font-weight="normal" text-anchor="start"  textLength="15" lengthAdjust="spacingAndGlyphs">2022</text>
<circle cx="605.8" cy="546.8" r="8.3" fill="#eceef6"/>
<circle cx="605.8" cy="546.8" r="7.7" fill="#fbfbfd"/>
<g transform="translate(605.8,546.8)"><path d="M-3.6,-0.6 H-1.6 L0.2,-3.6 C0.5,-4.2 1.4,-4 1.3,-3.2 L1,-1.2 H3.4 C4,-1.2 4.3,-0.7 4.2,-0.2 L3.5,2.7 C3.4,3.1 3.1,3.3 2.7,3.3 H-3.6 Z" fill="#f1b52a"/><rect x="-4.4" y="-0.6" width="2.2" height="4" rx="0.5" fill="#e0a01e"/></g>
<circle cx="623.8" cy="546.8" r="9.2" fill="#c4daf0"/>
<circle cx="623.8" cy="546.8" r="8.2" fill="#3a7cc0"/>
<g transform="translate(623.8,546.8)"><text x="0" y="3.1" font-size="8.6" font-weight="bold" fill="#fff" text-anchor="middle" letter-spacing="-0.2">in</text></g>
<line x1="59" y1="593.00" x2="203.5" y2="593.00" stroke="#dcdde2" stroke-width="0.8"/>
<text x="56.40" y="595.30" font-size="6.3" fill="#b2b3ba" font-weight="normal" text-anchor="end" >50%</text>
<line x1="59" y1="614.00" x2="203.5" y2="614.00" stroke="#dcdde2" stroke-width="0.8"/>
<text x="56.40" y="616.30" font-size="6.3" fill="#b2b3ba" font-weight="normal" text-anchor="end" >25%</text>
<text x="56.40" y="635.40" font-size="6.3" fill="#b2b3ba" font-weight="normal" text-anchor="end" >0%</text>
<line x1="60" y1="636.80" x2="203.5" y2="636.80" stroke="#d6d7dc" stroke-width="1"/>
<rect x="63.40" y="600.90" width="5.7" height="34.10" rx="2.85" fill="#2c2c30"/>
<rect x="63.40" y="632.00" width="5.7" height="3.00" fill="#2c2c30"/>
<text transform="translate(67.50,646.30) rotate(-30)" font-size="6.3" fill="#74757d" font-weight="bold" stroke="none" text-anchor="end">Régions</text>
<rect x="85.25" y="617.53" width="5.7" height="17.47" rx="2.85" fill="#2c2c30"/>
<rect x="85.25" y="632.00" width="5.7" height="3.00" fill="#2c2c30"/>
<text transform="translate(89.35,646.30) rotate(-30)" font-size="6.3" fill="#a4a5ad" font-weight="normal" stroke="none" text-anchor="end">Départements</text>
<rect x="107.10" y="623.24" width="5.7" height="11.76" rx="2.85" fill="#2c2c30"/>
<rect x="107.10" y="632.00" width="5.7" height="3.00" fill="#2c2c30"/>
<text transform="translate(111.20,646.30) rotate(-30)" font-size="6.3" fill="#a4a5ad" font-weight="normal" stroke="none" text-anchor="end">Métropoles</text>
<rect x="128.95" y="630.38" width="5.7" height="4.62" rx="2.31" fill="#2c2c30"/>
<rect x="128.95" y="632.00" width="5.7" height="3.00" fill="#2c2c30"/>
<text transform="translate(133.05,646.30) rotate(-30)" font-size="6.3" fill="#a4a5ad" font-weight="normal" stroke="none" text-anchor="end">Intercos</text>
<rect x="150.80" y="614.84" width="5.7" height="20.16" rx="2.85" fill="#2c2c30"/>
<rect x="150.80" y="632.00" width="5.7" height="3.00" fill="#2c2c30"/>
<text transform="translate(154.90,646.30) rotate(-30)" font-size="6.3" fill="#a4a5ad" font-weight="normal" stroke="none" text-anchor="end">Grandes villes</text>
<rect x="172.65" y="629.96" width="5.7" height="5.04" rx="2.52" fill="#2c2c30"/>
<rect x="172.65" y="632.00" width="5.7" height="3.00" fill="#2c2c30"/>
<text transform="translate(176.75,646.30) rotate(-30)" font-size="6.3" fill="#a4a5ad" font-weight="normal" stroke="none" text-anchor="end">Villes moyennes</text>
<rect x="194.50" y="633.80" width="5.7" height="1.20" rx="0.60" fill="#2c2c30"/>
<rect x="194.50" y="633.80" width="5.7" height="1.20" fill="#2c2c30"/>
<text transform="translate(198.60,646.30) rotate(-30)" font-size="6.3" fill="#a4a5ad" font-weight="normal" stroke="none" text-anchor="end"><tspan x="0" y="0">Petites villes</tspan><tspan x="0" y="6.6">et villages</tspan></text>
<text x="33.00" y="698.90" font-size="8.8" fill="#2e2f35" font-weight="bold" text-anchor="start"  textLength="65.7" lengthAdjust="spacingAndGlyphs" stroke="#2e2f35" stroke-width="0.28">TikTok <tspan font-weight="normal" fill="#5b5c63">(nouveau)</tspan></text>
<circle cx="184.8" cy="695.7" r="8.3" fill="#eceef6"/>
<circle cx="184.8" cy="695.7" r="7.7" fill="#fbfbfd"/>
<g transform="translate(184.8,695.7)"><path d="M-3.8,4 L-1.2,-3.6 L3.2,1.2 Z" fill="#e2a634"/><path d="M-2.6,0.5 L0.6,2.6 M-1.8,-1.8 L2.1,0.8" stroke="#c9852a" stroke-width="0.7"/><circle cx="2.8" cy="-3" r="0.7" fill="#e24a6a"/><circle cx="3.9" cy="-1" r="0.6" fill="#4aa0e0"/><path d="M0.8,-4.2 q0.8,0.8 0,1.6" stroke="#d1408a" stroke-width="0.6" fill="none"/></g>
<circle cx="203" cy="695.7" r="9.2" fill="#d5d6da"/>
<circle cx="203" cy="695.7" r="8.2" fill="#2b2b2f"/>
<g transform="translate(203,695.7)"><path d="M0.4,-4 H2 C2.1,-2.7 2.9,-1.9 4,-1.8 V-0.3 C3.2,-0.3 2.6,-0.5 2,-0.9 V1.6 C2,3.2 0.8,4.3 -0.7,4.3 C-2.2,4.3 -3.4,3.1 -3.4,1.6 C-3.4,0 -2,-1.2 -0.4,-1 V0.6 C-1.2,0.4 -1.9,0.9 -1.9,1.6 C-1.9,2.3 -1.3,2.8 -0.7,2.8 C0,2.8 0.4,2.3 0.4,1.6 Z" fill="#fff"/></g>
<path d="M476.60,148.30 L480.54,151.91 L485.71,150.55 L487.52,155.58 L492.73,156.77 L491.99,162.06 L496.06,165.54 L492.94,169.88 L494.93,174.85 L490.15,177.25 L489.60,182.57 L484.25,182.48 L481.29,186.93 L476.60,184.36 L471.91,186.93 L468.95,182.48 L463.60,182.57 L463.05,177.25 L458.27,174.85 L460.26,169.88 L457.14,165.54 L461.21,162.06 L460.47,156.77 L465.68,155.58 L467.49,150.55 L472.66,151.91 Z" fill="#ffffff" stroke="#ffffff" stroke-width="1.6" stroke-linejoin="round"/>
<text x="476.80" y="171.50" font-size="9.8" fill="#f0b43a" font-weight="bold" text-anchor="middle"  textLength="29" lengthAdjust="spacingAndGlyphs" stroke="#f0b43a" stroke-width="0.31">-10pts</text>
<text x="504.80" y="150.90" font-size="8.3" fill="#ffffff" font-weight="normal" text-anchor="start"  fill-opacity="0.82"><tspan font-weight="bold" fill-opacity="1" stroke="#ffffff" stroke-width="0.27">Snapchat est de moins en</tspan></text>
<text x="504.80" y="160.40" font-size="8.3" fill="#ffffff" font-weight="normal" text-anchor="start"  fill-opacity="0.82"><tspan font-weight="bold" fill-opacity="1" stroke="#ffffff" stroke-width="0.27">moins utilisé.</tspan> On observe une</text>
<text x="504.80" y="169.80" font-size="8.3" fill="#ffffff" font-weight="normal" text-anchor="start"  fill-opacity="0.82">décroissance de 10 points pour</text>
<text x="504.80" y="179.20" font-size="8.3" fill="#ffffff" font-weight="normal" text-anchor="start"  fill-opacity="0.82">les régions (18% contre 28%) et</text>
<text x="504.80" y="188.60" font-size="8.3" fill="#ffffff" font-weight="normal" text-anchor="start"  fill-opacity="0.82">de -6 points pour les métropoles.</text>
<g><circle cx="629" cy="134.2" r="15.5" fill="url(#fg)"/><path d="M622.40,132.80 L622.46,132.97 L622.46,133.16 L622.41,133.37 L622.29,133.57 L622.10,133.74 L621.87,133.86 L621.59,133.92 L621.28,133.90 L620.98,133.79 L620.69,133.60 L620.46,133.33 L620.29,132.99 L620.22,132.60 L620.24,132.18 L620.38,131.77 L620.64,131.39 L620.99,131.08 L621.43,130.86 L621.93,130.75 L622.46,130.77 L622.98,130.93 L623.47,131.23 L623.87,131.66 L624.16,132.19 L624.32,132.80 L624.31,133.44 L624.14,134.09 L623.80,134.68 L623.31,135.18 L622.70,135.56 L621.99,135.77 L621.23,135.80 L620.47,135.63 L619.76,135.27 L619.14,134.73 L618.68,134.04 L618.39,133.23 L618.31,132.36 L618.46,131.48 L618.83,130.64 L619.41,129.92 L620.17,129.34 L621.07,128.97 L622.05,128.83 L623.05,128.95 L624.01,129.32 L624.86,129.92 L625.55,130.74 L626.02,131.72 L626.23,132.80 L626.17,133.92 L625.82,135.01 L625.20,135.99 L624.34,136.80 L623.29,137.38 L622.11,137.68 L620.87,137.68 L619.65,137.37 L618.53,136.75 L617.59,135.86" fill="none" stroke="#6b3d10" stroke-width="1.2" stroke-linecap="round"/><path d="M636.30,132.80 L636.36,132.97 L636.36,133.16 L636.31,133.37 L636.19,133.57 L636.00,133.74 L635.77,133.86 L635.49,133.92 L635.18,133.90 L634.88,133.79 L634.59,133.60 L634.36,133.33 L634.19,132.99 L634.12,132.60 L634.14,132.18 L634.28,131.77 L634.54,131.39 L634.89,131.08 L635.33,130.86 L635.83,130.75 L636.36,130.77 L636.88,130.93 L637.37,131.23 L637.77,131.66 L638.06,132.19 L638.22,132.80 L638.21,133.44 L638.04,134.09 L637.70,134.68 L637.21,135.18 L636.60,135.56 L635.89,135.77 L635.13,135.80 L634.37,135.63 L633.66,135.27 L633.04,134.73 L632.58,134.04 L632.29,133.23 L632.21,132.36 L632.36,131.48 L632.73,130.64 L633.31,129.92 L634.07,129.34 L634.97,128.97 L635.95,128.83 L636.95,128.95 L637.91,129.32 L638.76,129.92 L639.45,130.74 L639.92,131.72 L640.13,132.80 L640.07,133.92 L639.72,135.01 L639.10,135.99 L638.24,136.80 L637.19,137.38 L636.01,137.68 L634.77,137.68 L633.55,137.37 L632.43,136.75 L631.49,135.86" fill="none" stroke="#6b3d10" stroke-width="1.2" stroke-linecap="round"/><path d="M621.5,142.5 q1.5,-1.7 3,0 t3,0 t3,0 t3,0 t3,0" fill="none" stroke="#6b3d10" stroke-width="1.3" stroke-linecap="round"/></g>
<path d="M56.60,326.30 L60.54,329.91 L65.71,328.55 L67.52,333.58 L72.73,334.77 L71.99,340.06 L76.06,343.54 L72.94,347.88 L74.93,352.85 L70.15,355.25 L69.60,360.57 L64.25,360.48 L61.29,364.93 L56.60,362.36 L51.91,364.93 L48.95,360.48 L43.60,360.57 L43.05,355.25 L38.27,352.85 L40.26,347.88 L37.14,343.54 L41.21,340.06 L40.47,334.77 L45.68,333.58 L47.49,328.55 L52.66,329.91 Z" fill="#ffffff" stroke="#ffffff" stroke-width="1.6" stroke-linejoin="round"/>
<text x="56.60" y="349.60" font-size="10.2" fill="#5a7ddc" font-weight="bold" text-anchor="middle"  stroke="#5a7ddc" stroke-width="0.33">94%</text>
<text x="84.80" y="334.60" font-size="8.3" fill="#ffffff" font-weight="normal" text-anchor="start"  fill-opacity="0.85"><tspan font-weight="bold" fill-opacity="1" stroke="#ffffff" stroke-width="0.27">94% des collectivités</tspan> présentes</text>
<text x="84.80" y="344.20" font-size="8.3" fill="#ffffff" font-weight="normal" text-anchor="start"  fill-opacity="0.85">sur les réseaux sociaux sont sur</text>
<text x="84.80" y="353.60" font-size="8.3" fill="#ffffff" font-weight="normal" text-anchor="start"  fill-opacity="0.85">Facebook en 2022 (contre 92%</text>
<text x="84.80" y="363.00" font-size="8.3" fill="#ffffff" font-weight="normal" text-anchor="start"  fill-opacity="0.85">en 2018).</text>
<g transform="translate(0.0,0.0)"><circle cx="32.3" cy="378.7" r="15.2" fill="url(#sg)"/><circle cx="32.3" cy="378.7" r="14.7" fill="none" stroke="#4f74d6" stroke-width="0.9" stroke-dasharray="46 100" transform="rotate(200 32.3 378.7)"/><ellipse cx="25.4" cy="377.2" rx="3.5" ry="4.1" fill="#fff"/><ellipse cx="38.6" cy="376.1" rx="3.5" ry="4.1" fill="#fff"/><ellipse cx="32.8" cy="385.3" rx="2.8" ry="4.4" fill="#8b3b10"/><path d="M19.2,383.5 C21.5,382 24.5,382.5 26,385 C27.3,388 27.5,393 25.5,395.5 C23,396.5 20.5,395.5 19.8,393 C19,390 18.5,386 19.2,383.5 Z" fill="#f7b92a" stroke="#e39a1d" stroke-width="0.5"/><path d="M47,381.5 C45,380.5 42,381 40.8,383.5 C39.8,386.5 39.8,391 41.5,393.5 C43.5,394.5 46,393.5 46.8,391 C47.5,388 47.6,384 47,381.5 Z" fill="#f7b92a" stroke="#e39a1d" stroke-width="0.5"/></g>
<path d="M398.80,503.80 L402.68,507.36 L407.77,506.01 L409.55,510.97 L414.68,512.14 L413.96,517.35 L417.96,520.77 L414.89,525.05 L416.85,529.94 L412.14,532.31 L411.60,537.55 L406.33,537.46 L403.42,541.84 L398.80,539.31 L394.18,541.84 L391.27,537.46 L386.00,537.55 L385.46,532.31 L380.75,529.94 L382.71,525.05 L379.64,520.77 L383.64,517.35 L382.92,512.14 L388.05,510.97 L389.83,506.01 L394.92,507.36 Z" fill="#ffffff" stroke="#ffffff" stroke-width="1.6" stroke-linejoin="round"/>
<text x="398.80" y="526.90" font-size="10.2" fill="#e24a70" font-weight="bold" text-anchor="middle"  textLength="33" lengthAdjust="spacingAndGlyphs" stroke="#e24a70" stroke-width="0.33">+48pts</text>
<text x="371.10" y="516.00" font-size="8.3" fill="#ffffff" font-weight="normal" text-anchor="end"  fill-opacity="0.8">De 38% en 2018, à 86% en 2022,</text>
<text x="371.10" y="525.60" font-size="8.3" fill="#ffffff" font-weight="bold" text-anchor="end"  stroke="#ffffff" stroke-width="0.27">les métropoles sont arrivées</text>
<text x="371.10" y="535.00" font-size="8.3" fill="#ffffff" font-weight="bold" text-anchor="end"  stroke="#ffffff" stroke-width="0.27">en force sur Instagram !</text>
<g><circle cx="421.5" cy="555.5" r="15.5" fill="url(#fg)"/><path d="M414.50,538.70 L416.79,544.14 L422.68,544.64 L418.21,548.51 L419.55,554.26 L414.50,551.20 L409.45,554.26 L410.79,548.51 L406.32,544.64 L412.21,544.14 Z" fill="#ffe45a" stroke="#e3a01a" stroke-width="0.9" stroke-linejoin="round"/><path d="M429.50,538.20 L431.79,543.64 L437.68,544.14 L433.21,548.01 L434.55,553.76 L429.50,550.70 L424.45,553.76 L425.79,548.01 L421.32,544.14 L427.21,543.64 Z" fill="#ffe45a" stroke="#e3a01a" stroke-width="0.9" stroke-linejoin="round"/><path d="M411.5,557.0 Q421.5,560.5 431.5,557.0 Q430.5,567.0 421.5,567.0 Q412.5,567.0 411.5,557.0 Z" fill="#6b3d10"/><path d="M412.5,557.7 Q421.5,561.1 430.5,557.7 L430.0,560.5 Q421.5,563.1 413.0,560.5 Z" fill="#fff"/></g>
<text x="33.60" y="738.60" font-size="10.8" fill="#4a4b52" font-weight="normal" text-anchor="start"  textLength="166.5" lengthAdjust="spacingAndGlyphs">En 2022, <tspan font-weight="bold" fill="#ffffff" stroke="#ffffff" stroke-width="0.35">13,7% des collectivités</tspan></text>
<text x="33.60" y="752.40" font-size="10.8" fill="#4a4b52" font-weight="normal" text-anchor="start"  textLength="156.4" lengthAdjust="spacingAndGlyphs">sont présentes sur au moins un</text>
<text x="33.60" y="766.00" font-size="10.8" fill="#4a4b52" font-weight="normal" text-anchor="start"  textLength="156.4" lengthAdjust="spacingAndGlyphs">réseau social, soit <tspan font-weight="bold" fill="#2b2b30" stroke="#2b2b30" stroke-width="0.35">+3,72 points</tspan></text>
<text x="33.60" y="779.60" font-size="10.8" fill="#4a4b52" font-weight="normal" text-anchor="start"  textLength="102.8" lengthAdjust="spacingAndGlyphs"><tspan font-weight="bold" fill="#2b2b30" stroke="#2b2b30" stroke-width="0.35">par rapport à 2018</tspan> !</text>
<g transform="translate(0,0)" stroke="#e09a18" stroke-width="0.6"><path d="M211.5,761 L208.3,750.5 C207.6,748 210.6,746.8 211.8,749 L216,759.5 Z" fill="#f2b324"/><path d="M205,781.6 C200.5,781 198.2,775.5 198.8,770 C199.5,764.5 204,760.3 210,760.5 L214.2,761.5 L213.6,751 C213.5,747.8 216.8,747.2 217.8,749.8 L221.5,760 C223.5,764 224.8,768 224.2,772.5 C223.2,778.5 218.5,782.2 212,782 Z" fill="#f8c431"/><ellipse cx="208" cy="768.4" rx="4.6" ry="3.7" fill="#f3f4f8" stroke="#e8a81e" stroke-width="0.9"/></g>
<text x="244.00" y="594.20" font-size="10.9" fill="#ffffff" font-weight="bold" text-anchor=" stroke="#ffffff" stroke-width="0.25""  textLength="350.8" lengthAdjust="spacingAndGlyphs">Analyse de +30 000 posts publiés par 25 collectivités territoriales</text>
<line x1="519.5" y1="619" x2="519.5" y2="771" stroke="#e0e1e6" stroke-width="1"/>
<circle cx="255.7" cy="649.4" r="10.4" fill="#c9d3f6"/>
<circle cx="255.7" cy="649.4" r="9.4" fill="#5575da"/>
<g transform="translate(255.7,649.4)"><path transform="scale(1.15)" d="M1.1,5.2 V0.6 H2.6 L2.8,-1.1 H1.1 V-2.1 C1.1,-2.6 1.3,-2.9 1.9,-2.9 H2.9 V-4.4 C2.6,-4.45 2.1,-4.5 1.5,-4.5 C0.1,-4.5 -0.8,-3.7 -0.8,-2.2 V-1.1 H-2.3 V0.6 H-0.8 V5.2 Z" fill="#fff"/></g>
<path d="M302,649.1 L302.00,624.10 A25,25 0 0 1 308.50,673.24 Z" fill="#5b7fe0"/>
<text x="319.05" y="649.25" font-size="7" font-weight="bold" fill="#fff" text-anchor="middle" stroke="#fff" stroke-width="0.22">46<tspan font-size="3.6" fill="#dfe3f3">%</tspan></text>
<path d="M302,649.1 L308.50,673.24 A25,25 0 0 1 306.36,673.72 Z" fill="#0e0e12"/>
<path d="M302,649.1 L306.36,673.72 A25,25 0 0 1 285.88,668.21 Z" fill="#3f5eb6"/>
<text x="297.53" y="668.11" font-size="7" font-weight="bold" fill="#fff" text-anchor="middle" stroke="#fff" stroke-width="0.22">14<tspan font-size="3.6" fill="#dfe3f3">%</tspan></text>
<path d="M302,649.1 L285.88,668.21 A25,25 0 0 1 278.26,641.26 Z" fill="#2d4489"/>
<text x="285.45" y="656.18" font-size="7" font-weight="bold" fill="#fff" text-anchor="middle" stroke="#fff" stroke-width="0.22">19<tspan font-size="3.6" fill="#dfe3f3">%</tspan></text>
<path d="M302,649.1 L278.26,641.26 A25,25 0 0 1 302.00,624.10 Z" fill="#1c2a5c"/>
<text x="291.92" y="637.56" font-size="7" font-weight="bold" fill="#fff" text-anchor="middle" stroke="#fff" stroke-width="0.22">20<tspan font-size="3.6" fill="#dfe3f3">%</tspan></text>
<circle cx="302" cy="649.1" r="9.2" fill="#fbfbfd"/>
<path d="M360.1,648.9 L360.10,623.90 A25,25 0 0 1 372.37,670.68 Z" fill="#5b7fe0"/>
<text x="376.74" y="646.94" font-size="7" font-weight="bold" fill="#fff" text-anchor="middle" stroke="#fff" stroke-width="0.22">42<tspan font-size="3.6" fill="#dfe3f3">%</tspan></text>
<path d="M360.1,648.9 L372.37,670.68 A25,25 0 0 1 370.42,671.67 Z" fill="#0e0e12"/>
<path d="M360.1,648.9 L370.42,671.67 A25,25 0 0 1 347.83,670.68 Z" fill="#3f5eb6"/>
<text x="359.35" y="668.48" font-size="7" font-weight="bold" fill="#fff" text-anchor="middle" stroke="#fff" stroke-width="0.22">15<tspan font-size="3.6" fill="#dfe3f3">%</tspan></text>
<path d="M360.1,648.9 L347.83,670.68 A25,25 0 0 1 338.24,636.76 Z" fill="#2d4489"/>
<text x="343.55" y="655.98" font-size="7" font-weight="bold" fill="#fff" text-anchor="middle" stroke="#fff" stroke-width="0.22">25<tspan font-size="3.6" fill="#dfe3f3">%</tspan></text>
<path d="M360.1,648.9 L338.24,636.76 A25,25 0 0 1 360.10,623.90 Z" fill="#1c2a5c"/>
<text x="351.38" y="636.48" font-size="7" font-weight="bold" fill="#fff" text-anchor="middle" stroke="#fff" stroke-width="0.22">17<tspan font-size="3.6" fill="#dfe3f3">%</tspan></text>
<circle cx="360.1" cy="648.9" r="9.2" fill="#fbfbfd"/>
<path d="M417.7,648.9 L417.70,623.90 A25,25 0 0 1 441.91,642.68 Z" fill="#5b7fe0"/>
<text x="428.24" y="637.71" font-size="7" font-weight="bold" fill="#fff" text-anchor="middle" stroke="#fff" stroke-width="0.22">21<tspan font-size="3.6" fill="#dfe3f3">%</tspan></text>
<path d="M417.7,648.9 L441.91,642.68 A25,25 0 0 1 437.93,663.59 Z" fill="#0e0e12"/>
<text x="434.60" y="654.52" font-size="7" font-weight="bold" fill="#fff" text-anchor="middle" stroke="#fff" stroke-width="0.22">14<tspan font-size="3.6" fill="#dfe3f3">%</tspan></text>
<path d="M417.7,648.9 L437.93,663.59 A25,25 0 0 1 403.01,669.13 Z" fill="#3f5eb6"/>
<text x="420.39" y="668.29" font-size="7" font-weight="bold" fill="#fff" text-anchor="middle" stroke="#fff" stroke-width="0.22">25<tspan font-size="3.6" fill="#dfe3f3">%</tspan></text>
<path d="M417.7,648.9 L403.01,669.13 A25,25 0 0 1 395.79,636.86 Z" fill="#2d4489"/>
<text x="400.91" y="655.05" font-size="7" font-weight="bold" fill="#fff" text-anchor="middle" stroke="#fff" stroke-width="0.22">23<tspan font-size="3.6" fill="#dfe3f3">%</tspan></text>
<path d="M417.7,648.9 L395.79,636.86 A25,25 0 0 1 417.70,623.90 Z" fill="#1c2a5c"/>
<text x="408.94" y="636.50" font-size="7" font-weight="bold" fill="#fff" text-anchor="middle" stroke="#fff" stroke-width="0.22">17<tspan font-size="3.6" fill="#dfe3f3">%</tspan></text>
<circle cx="417.7" cy="648.9" r="9.2" fill="#fbfbfd"/>
<text x="301.80" y="687.30" font-size="7.6" fill="#33343a" font-weight="bold" text-anchor="middle"  textLength="47.5" lengthAdjust="spacingAndGlyphs" stroke="#33343a" stroke-width="0.24">Types de posts</text>
<text x="359.50" y="687.30" font-size="7.6" fill="#33343a" font-weight="bold" text-anchor="middle"  textLength="37.9" lengthAdjust="spacingAndGlyphs" stroke="#33343a" stroke-width="0.24">Impressions</text>
<text x="417.70" y="687.30" font-size="7.6" fill="#33343a" font-weight="bold" text-anchor="middle"  textLength="40.6" lengthAdjust="spacingAndGlyphs" stroke="#33343a" stroke-width="0.24">Engagement</text>
<rect x="453.9" y="620.2" width="39.9" height="11.6" rx="5.8" fill="#c5d0f4"/>
<rect x="454.7" y="621" width="38.3" height="10" rx="5" fill="#5b7fe0"/>
<rect x="459.1" y="624.5" width="3.8" height="3" rx="0.5" fill="#fff"/><circle cx="461.0" cy="626" r="0.8" fill="#5b7fe0"/>
<text x="464.90" y="628.30" font-size="7.2" fill="#ffffff" font-weight="normal" text-anchor="start" >Photos</text>
<rect x="454.7" y="635.2" width="38.3" height="10" rx="5" fill="#3f5eb6"/>
<rect x="459.0" y="638.8000000000001" width="2.8" height="2.8" rx="0.4" fill="#fff"/><path d="M461.6,640.2 L463.0,639.0 V641.4000000000001 Z" fill="#fff"/>
<text x="464.90" y="642.50" font-size="7.2" fill="#ffffff" font-weight="normal" text-anchor="start" >Vidéos</text>
<rect x="454.7" y="649.4" width="39.8" height="10" rx="5" fill="#2d4489"/>
<rect x="459.2" y="652.6" width="3.6" height="3.6" rx="0.3" fill="#fff"/>
<text x="464.90" y="656.70" font-size="7.2" fill="#ffffff" font-weight="normal" text-anchor="start" >Albums</text>
<rect x="454.7" y="663.7" width="33" height="10" rx="5" fill="#1c2a5c"/>
<path d="M459.4,670.3000000000001 L462.6,667.1" stroke="#fff" stroke-width="1.6" stroke-linecap="round"/>
<text x="464.90" y="671.00" font-size="7.2" fill="#ffffff" font-weight="normal" text-anchor="start" >Liens</text>
<rect x="454.7" y="677.9" width="36.7" height="10" rx="5" fill="#0e0e12"/>
<text x="461.0" y="685.0" font-size="6" font-weight="bold" fill="#fff" text-anchor="middle" stroke="#fff" stroke-width="0.19">T</text>
<text x="464.90" y="685.20" font-size="7.2" fill="#ffffff" font-weight="normal" text-anchor="start" >Statuts</text>
<circle cx="255.7" cy="728" r="10.2" fill="#f6c5d2"/>
<circle cx="255.7" cy="728" r="9.2" fill="#e0466c"/>
<g transform="translate(255.7,728)"><rect transform="scale(1.1)" x="-3.6" y="-3.6" width="7.2" height="7.2" rx="2" fill="none" stroke="#fff" stroke-width="1"/><circle transform="scale(1.1)" cx="0" cy="0" r="1.7" fill="none" stroke="#fff" stroke-width="1"/><circle transform="scale(1.1)" cx="2.1" cy="-2.1" r="0.45" fill="#fff"/></g>
<path d="M302.2,728 L302.20,703.00 A25,25 0 0 1 314.24,749.91 Z" fill="#e44c71"/>
<text x="318.86" y="726.12" font-size="7" font-weight="bold" fill="#fff" text-anchor="middle" stroke="#fff" stroke-width="0.22">42<tspan font-size="3.6" fill="#dfe3f3">%</tspan></text>
<path d="M302.2,728 L314.24,749.91 A25,25 0 0 1 285.09,746.22 Z" fill="#a3304f"/>
<text x="300.04" y="747.46" font-size="7" font-weight="bold" fill="#fff" text-anchor="middle" stroke="#fff" stroke-width="0.22">20<tspan font-size="3.6" fill="#dfe3f3">%</tspan></text>
<path d="M302.2,728 L285.09,746.22 A25,25 0 0 1 302.20,703.00 Z" fill="#6a1e34"/>
<text x="286.21" y="724.07" font-size="7" font-weight="bold" fill="#fff" text-anchor="middle" stroke="#fff" stroke-width="0.22">38<tspan font-size="3.6" fill="#dfe3f3">%</tspan></text>
<circle cx="302.2" cy="728" r="9.2" fill="#fbfbfd"/>
<path d="M360.1,728 L360.10,703.00 A25,25 0 0 1 377.21,746.22 Z" fill="#e44c71"/>
<text x="376.09" y="724.07" font-size="7" font-weight="bold" fill="#fff" text-anchor="middle" stroke="#fff" stroke-width="0.22">38<tspan font-size="3.6" fill="#dfe3f3">%</tspan></text>
<path d="M360.1,728 L377.21,746.22 A25,25 0 0 1 345.41,748.23 Z" fill="#a3304f"/>
<text x="361.18" y="747.57" font-size="7" font-weight="bold" fill="#fff" text-anchor="middle" stroke="#fff" stroke-width="0.22">22<tspan font-size="3.6" fill="#dfe3f3">%</tspan></text>
<path d="M360.1,728 L345.41,748.23 A25,25 0 0 1 360.10,703.00 Z" fill="#6a1e34"/>
<text x="343.74" y="725.08" font-size="7" font-weight="bold" fill="#fff" text-anchor="middle" stroke="#fff" stroke-width="0.22">40<tspan font-size="3.6" fill="#dfe3f3">%</tspan></text>
<circle cx="360.1" cy="728" r="9.2" fill="#fbfbfd"/>
<path d="M417.7,728 L417.70,703.00 A25,25 0 0 1 436.96,743.94 Z" fill="#e44c71"/>
<text x="433.26" y="723.08" font-size="7" font-weight="bold" fill="#fff" text-anchor="middle" stroke="#fff" stroke-width="0.22">36<tspan font-size="3.6" fill="#dfe3f3">%</tspan></text>
<path d="M417.7,728 L436.96,743.94 A25,25 0 0 1 399.48,745.11 Z" fill="#a3304f"/>
<text x="418.24" y="747.59" font-size="7" font-weight="bold" fill="#fff" text-anchor="middle" stroke="#fff" stroke-width="0.22">27<tspan font-size="3.6" fill="#dfe3f3">%</tspan></text>
<path d="M417.7,728 L399.48,745.11 A25,25 0 0 1 417.70,703.00 Z" fill="#6a1e34"/>
<text x="401.91" y="723.57" font-size="7" font-weight="bold" fill="#fff" text-anchor="middle" stroke="#fff" stroke-width="0.22">37<tspan font-size="3.6" fill="#dfe3f3">%</tspan></text>
<circle cx="417.7" cy="728" r="9.2" fill="#fbfbfd"/>
<text x="301.80" y="765.20" font-size="7.6" fill="#33343a" font-weight="bold" text-anchor="middle"  textLength="47.5" lengthAdjust="spacingAndGlyphs" stroke="#33343a" stroke-width="0.24">Types de posts</text>
<text x="359.50" y="765.20" font-size="7.6" fill="#33343a" font-weight="bold" text-anchor="middle"  textLength="37.9" lengthAdjust="spacingAndGlyphs" stroke="#33343a" stroke-width="0.24">Impressions</text>
<text x="417.70" y="765.20" font-size="7.6" fill="#33343a" font-weight="bold" text-anchor="middle"  textLength="40.6" lengthAdjust="spacingAndGlyphs" stroke="#33343a" stroke-width="0.24">Engagement</text>
<rect x="453.9" y="708.2" width="39.9" height="11.6" rx="5.8" fill="#f6c5d2"/>
<rect x="454.7" y="709" width="38.3" height="10" rx="5" fill="#e44c71"/>
<rect x="459.1" y="712.5" width="3.8" height="3" rx="0.5" fill="#fff"/><circle cx="461.0" cy="714" r="0.8" fill="#e44c71"/>
<text x="464.90" y="716.30" font-size="7.2" fill="#ffffff" font-weight="normal" text-anchor="start" >Photos</text>
<rect x="454.7" y="723.2" width="33.5" height="10" rx="5" fill="#a3304f"/>
<rect x="459.0" y="726.8000000000001" width="2.8" height="2.8" rx="0.4" fill="#fff"/><path d="M461.6,728.2 L463.0,727.0 V729.4000000000001 Z" fill="#fff"/>
<text x="464.90" y="730.50" font-size="7.2" fill="#ffffff" font-weight="normal" text-anchor="start" >Reels</text>
<rect x="454.7" y="737.4" width="50.4" height="10" rx="5" fill="#6a1e34"/>
<rect x="459.2" y="740.6" width="3.6" height="3.6" rx="0.3" fill="#fff"/>
<text x="464.90" y="744.70" font-size="7.2" fill="#ffffff" font-weight="normal" text-anchor="start" >Carrousels</text>
<text x="628.00" y="626.80" font-size="8.1" fill="#2e2f35" font-weight="bold" text-anchor="end"  textLength="86.7" lengthAdjust="spacingAndGlyphs" stroke="#2e2f35" stroke-width="0.26">Le taux d’engagement</text>
<text x="628.00" y="636.90" font-size="8.1" fill="#7b7c84" font-weight="normal" text-anchor="end"  textLength="90.6" lengthAdjust="spacingAndGlyphs"><tspan font-weight="bold" fill="#2e2f35" stroke="#2e2f35" stroke-width="0.26">moyen</tspan> le plus important</text>
<text x="628.00" y="645.80" font-size="8.1" fill="#7b7c84" font-weight="normal" text-anchor="end" >est sur LinkedIn :</text>
<rect x="595.5" y="648.6" width="32.5" height="9.6" fill="#3a7cc0"/>
<text x="611.80" y="656.40" font-size="8.1" fill="#ffffff" font-weight="bold" text-anchor="middle"  stroke="#ffffff" stroke-width="0.26">10,64%</text>
<text x="543.50" y="684.90" font-size="6.3" fill="#b2b3ba" font-weight="normal" text-anchor="end" >12%</text>
<text x="543.50" y="723.70" font-size="6.3" fill="#b2b3ba" font-weight="normal" text-anchor="end" >6%</text>
<text x="543.50" y="762.20" font-size="6.3" fill="#b2b3ba" font-weight="normal" text-anchor="end" >0%</text>
<line x1="548" y1="682.7" x2="628.4" y2="682.7" stroke="#dcdde2" stroke-width="0.8"/>
<line x1="548" y1="721.5" x2="628.4" y2="721.5" stroke="#dcdde2" stroke-width="0.8"/>
<line x1="548" y1="764.8" x2="628.4" y2="764.8" stroke="#d8d9de" stroke-width="1"/>
<rect x="559.4" y="705.41" width="10.8" height="56.89" rx="5.4" fill="#5b7fe0"/>
<rect x="559.4" y="756.30" width="10.8" height="6" rx="1.5" fill="#5b7fe0"/>
<text x="564.80" y="701.81" font-size="7.2" fill="#2e2f35" font-weight="bold" text-anchor="middle"  letter-spacing="-0.2" stroke="#2e2f35" stroke-width="0.23">8,62<tspan font-size="3.8">%</tspan></text>
<g transform="translate(564.8,757.6999999999999) scale(0.52)"><path d="M1.1,5.2 V0.6 H2.6 L2.8,-1.1 H1.1 V-2.1 C1.1,-2.6 1.3,-2.9 1.9,-2.9 H2.9 V-4.4 C2.6,-4.45 2.1,-4.5 1.5,-4.5 C0.1,-4.5 -0.8,-3.7 -0.8,-2.2 V-1.1 H-2.3 V0.6 H-0.8 V5.2 Z" fill="#fff"/></g>
<rect x="574.6" y="750.55" width="10.8" height="11.75" rx="5.4" fill="#3d9be6"/>
<rect x="574.6" y="756.30" width="10.8" height="6" rx="1.5" fill="#3d9be6"/>
<text x="580.00" y="746.95" font-size="7.2" fill="#2e2f35" font-weight="bold" text-anchor="middle"  letter-spacing="-0.2" stroke="#2e2f35" stroke-width="0.23">1,78<tspan font-size="3.8">%</tspan></text>
<g transform="translate(580.0,757.6999999999999) scale(0.6)"><path d="M4.3,-2.6 C4,-2.45 3.7,-2.38 3.35,-2.33 C3.7,-2.55 3.95,-2.87 4.08,-3.27 C3.75,-3.07 3.4,-2.93 3.02,-2.86 C2.7,-3.2 2.26,-3.4 1.77,-3.4 C0.83,-3.4 0.07,-2.64 0.07,-1.7 C0.07,-1.57 0.08,-1.43 0.11,-1.31 C-1.3,-1.38 -2.55,-2.06 -3.39,-3.08 C-3.53,-2.83 -3.62,-2.54 -3.62,-2.23 C-3.62,-1.64 -3.32,-1.12 -2.86,-0.81 C-3.14,-0.82 -3.4,-0.9 -3.63,-1.02 V-1 C-3.63,-0.18 -3.05,0.51 -2.27,0.67 C-2.42,0.71 -2.57,0.73 -2.72,0.73 C-2.83,0.73 -2.94,0.72 -3.04,0.7 C-2.82,1.37 -2.2,1.86 -1.46,1.88 C-2.04,2.34 -2.78,2.61 -3.57,2.61 C-3.71,2.61 -3.84,2.6 -3.97,2.58 C-3.22,3.07 -2.32,3.35 -1.36,3.35 C1.77,3.35 3.49,0.75 3.49,-1.5 L3.48,-1.72 C3.82,-1.96 4.1,-2.26 4.33,-2.6 Z" fill="#fff"/></g>
<rect x="590.1" y="692.08" width="10.8" height="70.22" rx="5.4" fill="#3a7cc0"/>
<rect x="590.1" y="756.30" width="10.8" height="6" rx="1.5" fill="#3a7cc0"/>
<text x="595.50" y="688.48" font-size="7.2" fill="#2e2f35" font-weight="bold" text-anchor="middle"  letter-spacing="-0.2" stroke="#2e2f35" stroke-width="0.23">10,64<tspan font-size="3.8">%</tspan></text>
<text x="595.5" y="759.5999999999999" font-size="5.4" font-weight="bold" fill="#fff" text-anchor="middle" stroke="none">in</text>
<rect x="605.8" y="718.28" width="10.8" height="44.02" rx="5.4" fill="#e44c71"/>
<rect x="605.8" y="756.30" width="10.8" height="6" rx="1.5" fill="#e44c71"/>
<text x="611.20" y="714.68" font-size="7.2" fill="#2e2f35" font-weight="bold" text-anchor="middle"  letter-spacing="-0.2" stroke="#2e2f35" stroke-width="0.23">6,67<tspan font-size="3.8">%</tspan></text>
<g transform="translate(611.1999999999999,757.6999999999999) scale(0.55)"><rect x="-3.6" y="-3.6" width="7.2" height="7.2" rx="2" fill="none" stroke="#fff" stroke-width="1"/><circle cx="0" cy="0" r="1.7" fill="none" stroke="#fff" stroke-width="1"/><circle cx="2.1" cy="-2.1" r="0.45" fill="#fff"/></g>
<text x="280.00" y="807.20" font-size="6.1" fill="#c3c4cb" font-weight="normal" text-anchor="start"  textLength="239.8" lengthAdjust="spacingAndGlyphs">Sources &amp; étude complète à télécharger gratuitement : <tspan font-weight="bold" fill="#a9aab2" stroke="#a9aab2" stroke-width="0.2">swll.to/etude-territoires</tspan></text>
<text x="535.50" y="809.80" font-size="12.6" fill="#a9aab2" font-weight="bold" text-anchor="start"  textLength="38.5" lengthAdjust="spacingAndGlyphs" stroke="#a9aab2" stroke-width="0.4">swello</text>
<g fill="none" stroke="#b8b9c0" stroke-width="1.2"><circle cx="590.5" cy="802.6" r="4.6"/><path d="M587.2,806.2 L582.8,810.8" stroke-width="1.6" stroke-linecap="round"/></g>
<path d="M587.5,797.5 l-1,-1.5" stroke="#c7c8ce" stroke-width="0.8"/>
<text x="598.50" y="801.60" font-size="4.3" fill="#bfc0c6" font-weight="normal" text-anchor=" stroke="#bfc0c6" stroke-width="0.15""  textLength="42.5" lengthAdjust="spacingAndGlyphs">OBSERVATOIRE</text>
<text x="598.50" y="806.30" font-size="4.6" fill="#b9bac1" font-weight="normal" text-anchor=" stroke="#b9bac1" stroke-width="0.15""  textLength="42.5" lengthAdjust="spacingAndGlyphs">SOCIALMEDIA</text>
<text x="594.50" y="811.60" font-size="4.3" fill="#cdced4" font-weight="normal" text-anchor="start"  textLength="46.5" lengthAdjust="spacingAndGlyphs">DES TERRITOIRES</text>
</svg>
</body></html>
